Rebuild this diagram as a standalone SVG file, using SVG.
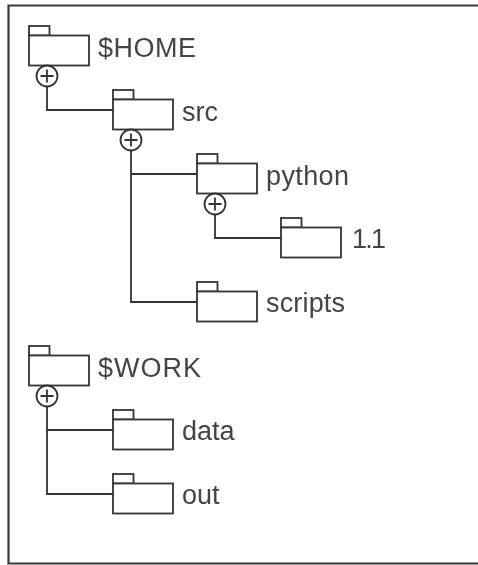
<svg xmlns="http://www.w3.org/2000/svg" width="478" height="565" viewBox="0 0 478 565">
<defs>
<style>
.l{fill:none;stroke:#333;stroke-width:1.8}
.f{fill:#fff;stroke:#333;stroke-width:1.8}
text{font-family:"Liberation Sans",Arial,sans-serif;font-size:27px;fill:#444;filter:url(#soft)}
</style>
<filter id="soft" x="-5%" y="-5%" width="110%" height="110%"><feGaussianBlur stdDeviation="0.4"/></filter>
<g id="folder"><rect class="f" x="0" y="-9.500" width="20.500" height="9.500"/><rect class="f" x="0" y="0" width="60" height="30"/></g>
<g id="plus"><circle class="f" r="10.500"/><path class="l" d="M-6.500 0H6.500M0-6.500V6.500"/></g>
</defs>
<rect width="478" height="565" fill="#fff"/>
<path d="M478 5.500H8.500V563.500H478" fill="none" stroke="#3a3a3a" stroke-width="2.200"/>
<g id="connectors">
<path class="l" d="M47 86V110H113"/>
<path class="l" d="M131 150V302H197M131 174H197"/>
<path class="l" d="M215 214V238H281"/>
<path class="l" d="M47 406V494H113M47 430H113"/>
</g>
<g id="home"><use href="#folder" x="29" y="35.500"/><use href="#plus" x="47" y="76"/><text x="98" y="57" textLength="98">$HOME</text></g>
<g id="src"><use href="#folder" x="113" y="99.500"/><use href="#plus" x="131" y="140"/><text x="182" y="121">src</text></g>
<g id="python"><use href="#folder" x="197" y="163.500"/><use href="#plus" x="215" y="204"/><text x="266" y="185" textLength="83">python</text></g>
<g id="v11"><use href="#folder" x="281" y="227.500"/><text x="352" y="248" textLength="34">1.1</text></g>
<g id="scripts"><use href="#folder" x="197" y="291.500"/><text x="266" y="312" textLength="79">scripts</text></g>
<g id="work"><use href="#folder" x="29" y="355.500"/><use href="#plus" x="47" y="396"/><text x="98" y="377" textLength="103">$WORK</text></g>
<g id="data"><use href="#folder" x="113" y="419.500"/><text x="182" y="440">data</text></g>
<g id="out"><use href="#folder" x="113" y="483.500"/><text x="182" y="504">out</text></g>
</svg>
